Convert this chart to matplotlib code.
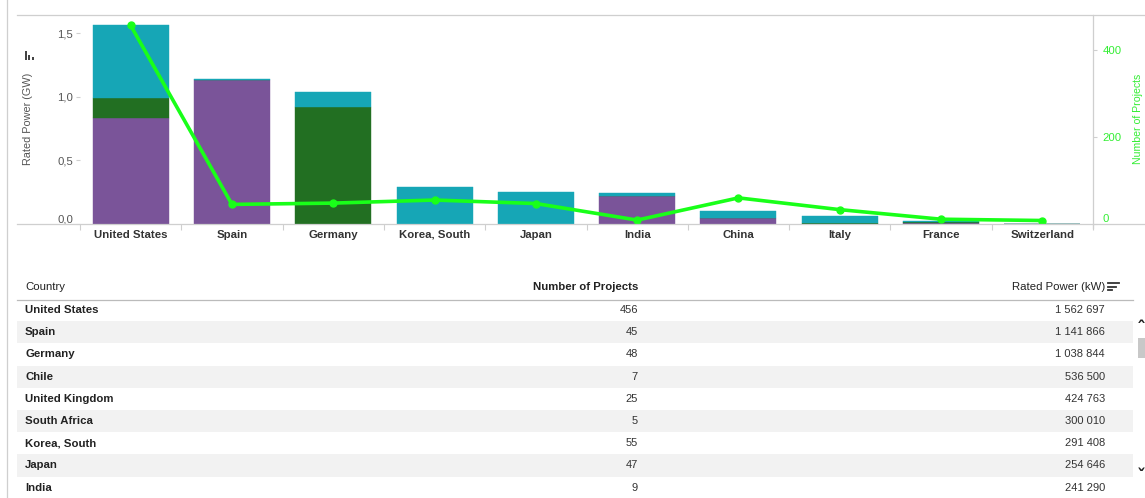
import matplotlib
matplotlib.use("Agg")
import matplotlib.pyplot as plt
from matplotlib.lines import Line2D
from matplotlib.patches import Rectangle
import numpy as np

plt.rcParams['font.family'] = ['Liberation Sans', 'DejaVu Sans']

# ---- chart data ----
countries = ["United States", "Spain", "Germany", "Korea, South", "Japan",
             "India", "China", "Italy", "France", "Switzerland"]
power_purple_gw = [0.830, 1.130, 0.000, 0.000, 0.000, 0.220, 0.050, 0.002, 0.008, 0.001]
power_green_gw = [0.160, 0.004, 0.920, 0.000, 0.000, 0.000, 0.000, 0.002, 0.008, 0.000]
power_teal_gw = [0.573, 0.008, 0.119, 0.291, 0.255, 0.021, 0.053, 0.057, 0.008, 0.001]
projects = [456, 45, 48, 55, 47, 9, 60, 33, 11, 8]

left_ticks = [0.0, 0.5, 1.0, 1.5]
right_ticks = [0, 200, 400]

# ---- table data ----
table_countries = ["United States", "Spain", "Germany", "Chile", "United Kingdom",
                   "South Africa", "Korea, South", "Japan", "India"]
table_projects = [456, 45, 48, 7, 25, 5, 55, 47, 9]
table_power_kw = [1562697, 1141866, 1038844, 536500, 424763, 300010, 291408, 254646, 241290]

W, H = 1145, 498
fig = plt.figure(figsize=(W / 100, H / 100), dpi=100)


def fx(x):
    return x / W


def fy(y):
    return 1 - y / H


PURPLE = "#7a5499"
GREEN = "#226f22"
TEAL = "#16a6b6"
LINE = "#19ff19"
GRID = "#cfcfcf"

# chart area
x0, x1, ytop, ybase = 80, 1093, 15, 224
ax = fig.add_axes([fx(x0), fy(ybase), fx(x1) - fx(x0), fy(ytop) - fy(ybase)])
ax.set_xlim(-0.5, len(countries) - 0.5)
ax.set_ylim(0, 1.642)
ax.set_facecolor("none")

xpos = np.arange(len(countries))
bottom = np.zeros(len(countries))
for vals, col in [(power_purple_gw, PURPLE), (power_green_gw, GREEN), (power_teal_gw, TEAL)]:
    ax.bar(xpos, vals, width=0.75, bottom=bottom, color=col,
           edgecolor=col, linewidth=0.3, zorder=2)
    bottom += np.array(vals)

for s in ax.spines.values():
    s.set_visible(False)

ax.set_xticks(xpos)
ax.set_xticklabels(countries, fontsize=8.2, fontweight="bold", color="#333333")
ax.set_xticks(np.arange(-0.5, len(countries)), minor=True)
ax.tick_params(axis="x", which="major", length=0, pad=4)
ax.tick_params(axis="x", which="minor", length=4, color=GRID, width=0.8)

ax.set_yticks(left_ticks)
ax.set_yticklabels([f"{v:.1f}".replace(".", ",") for v in left_ticks],
                   fontsize=8.2, color="#555555")
ax.tick_params(axis="y", length=3, color=GRID, width=0.8, pad=2)
for lab in ax.get_yticklabels():
    if lab.get_text() == "0,0":
        lab.set_verticalalignment("bottom")

ax2 = ax.twinx()
ax2.set_ylim(0, 480)
ax2.plot(xpos, projects, color=LINE, linewidth=2.6, marker="o",
         markersize=5, zorder=5, solid_joinstyle="miter")
for k, s in ax2.spines.items():
    s.set_visible(k == "right")
ax2.spines["right"].set_color(GRID)
ax2.spines["right"].set_linewidth(0.9)
ax2.set_yticks(right_ticks)
ax2.set_yticklabels([str(v) for v in right_ticks], fontsize=8.2, color="#33ee33")
ax2.tick_params(axis="y", length=3, color=GRID, width=0.8, pad=4)
for lab in ax2.get_yticklabels():
    if lab.get_text() == "0":
        lab.set_verticalalignment("bottom")

# frame lines of the panel
fig.add_artist(Line2D([fx(17), fx(W)], [fy(ytop), fy(ytop)], color=GRID, lw=0.9))
fig.add_artist(Line2D([fx(17), fx(W)], [fy(ybase), fy(ybase)], color=GRID, lw=0.9))
fig.add_artist(Line2D([fx(7), fx(7)], [0, 1], color=GRID, lw=0.9))
fig.add_artist(Line2D([fx(x1), fx(x1)], [fy(ybase), fy(228)], color=GRID, lw=0.9))

# axis titles
fig.text(fx(28), fy(119), "Rated Power (GW)", rotation=90, ha="center", va="center",
         fontsize=7.8, color="#555555")
fig.text(fx(1138), fy(119), "Number of Projects", rotation=90, ha="center", va="center",
         fontsize=7.6, color="#33ee33")
# small bar-chart glyph above the left title
for hgt, xx in [(9, 24.5), (5, 28.0), (3, 31.5)]:
    fig.add_artist(Rectangle((fx(xx), fy(60)), fx(2.0), hgt / H, color="#444444", lw=0))

# ---- table ----
tl, tr = 17, 1133
row_h = 22.2
first_row = 310
for i in range(len(table_countries)):
    yc = first_row + i * row_h
    if i % 2 == 1:
        fig.add_artist(Rectangle((fx(tl), fy(yc + row_h / 2)), fx(tr) - fx(tl), row_h / H,
                                 color="#f2f2f2", lw=0, zorder=0))
    fig.text(fx(25), fy(yc), table_countries[i], ha="left", va="center",
             fontsize=8.2, fontweight="bold", color="#222222")
    fig.text(fx(638), fy(yc), str(table_projects[i]), ha="right", va="center",
             fontsize=8.0, color="#333333")
    fig.text(fx(1105), fy(yc), f"{table_power_kw[i]:,}".replace(",", " "), ha="right",
             va="center", fontsize=8.0, color="#333333")

hy = 287
fig.text(fx(25), fy(hy), "Country", ha="left", va="center", fontsize=8.2, color="#222222")
fig.text(fx(638), fy(hy), "Number of Projects", ha="right", va="center", fontsize=8.2,
         fontweight="bold", color="#222222")
fig.text(fx(1105), fy(hy), "Rated Power (kW)", ha="right", va="center", fontsize=8.2,
         color="#222222")
# sort indicator
for j, ln in enumerate([11, 8, 4]):
    yy = hy - 4 + j * 3.5
    fig.add_artist(Line2D([fx(1108), fx(1108 + ln)], [fy(yy), fy(yy)], color="#333333", lw=1.3))
fig.add_artist(Line2D([fx(tl), fx(tr)], [fy(300), fy(300)], color="#bbbbbb", lw=0.9))

# scrollbar
fig.add_artist(Rectangle((fx(1138), fy(358)), fx(7), 20 / H, color="#c8c8c8", lw=0))
fig.text(fx(1141), fy(329), "ˆ", ha="center", va="center", fontsize=13, color="#222222",
         family="DejaVu Sans", fontweight="bold")
fig.text(fx(1141), fy(477), "ˇ", ha="center", va="center", fontsize=13, color="#222222",
         family="DejaVu Sans", fontweight="bold")

fig.savefig("out.png", dpi=100)
